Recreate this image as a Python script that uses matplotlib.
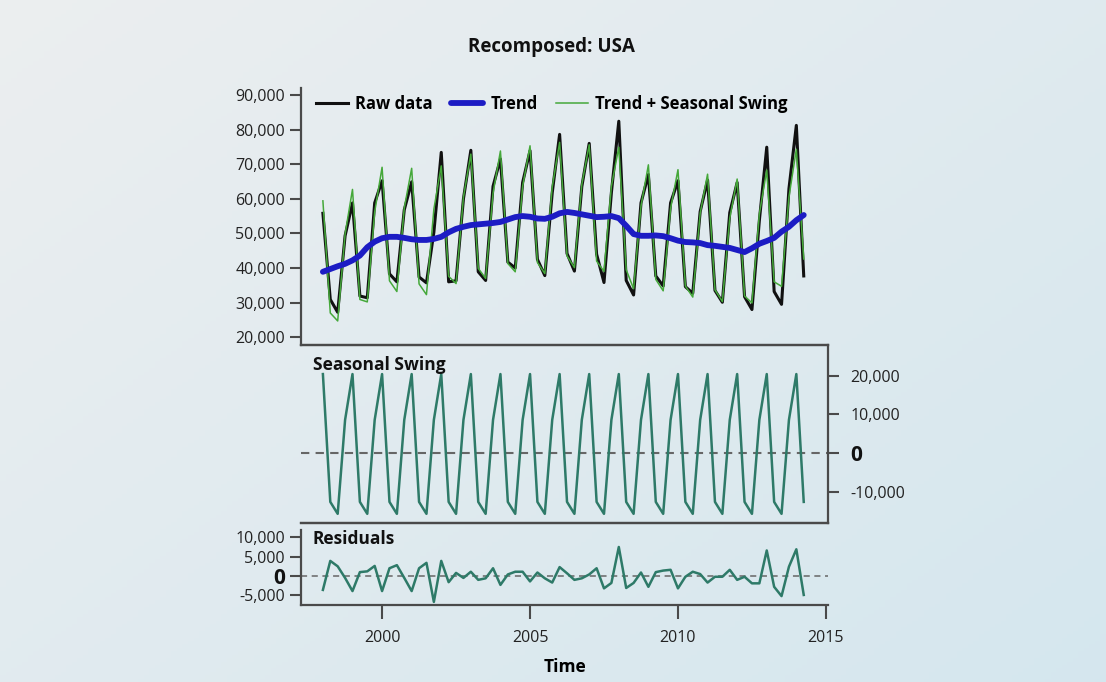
import matplotlib
matplotlib.use("Agg")
import matplotlib.pyplot as plt
import numpy as np
from matplotlib.ticker import FuncFormatter

plt.rcParams["font.family"] = ["Open Sans", "DejaVu Sans"]

# quarterly series, 1998 Q1 .. 2014 Q2
start_year = 1998
trend = [38900, 39700, 40500, 41200, 42200, 43600, 46000, 47600,
         48600, 49000, 49000, 48700, 48300, 48100, 48100, 48400,
         49000, 50300, 51300, 51900, 52400, 52600, 52800, 53000,
         53300, 54000, 54700, 55000, 54800, 54300, 54200, 54800,
         55800, 56200, 55900, 55500, 55100, 54700, 54800, 55000,
         54400, 52200, 49800, 49300, 49300, 49400, 49200, 48600,
         47900, 47500, 47400, 47200, 46600, 46400, 46100, 45800,
         45200, 44600, 45700, 47000, 47800, 48700, 50500, 51900,
         53800, 55300]
seasonal_by_quarter = [20500, -12700, -15800, 8600]
residuals = [-3600, 3900, 2500, -500, -3900, 1000, 1200, 2600,
             -3900, 2000, 2800, -500, -3900, 2000, 3400, -6700,
             3900, -1600, 800, -500, 1100, -1000, -600, 2000,
             -2300, 400, 1100, 1100, -1400, 900, -600, -1700,
             2300, 700, -1000, -600, 400, 2000, -3200, -1800,
             7500, -3100, -1800, 900, -2800, 1000, 1400, 1600,
             -3200, -200, 1100, 500, -1700, -200, -200, 1600,
             -1000, -200, -1900, -1900, 6600, -2800, -5200, 2400,
             6900, -4900]

legend_labels = ["Raw data", "Trend", "Trend + Seasonal Swing"]
x_ticks = [2000, 2005, 2010, 2015]
top_ticks = [20000, 30000, 40000, 50000, 60000, 70000, 80000, 90000]
season_ticks = [-10000, 0, 10000, 20000]
resid_ticks = [-5000, 0, 5000, 10000]

n = len(trend)
t = start_year + np.arange(n) / 4.0
trend = np.array(trend, dtype=float)
seasonal = np.tile(seasonal_by_quarter, n // 4 + 1)[:n].astype(float)
residuals = np.array(residuals, dtype=float)
trend_seasonal = trend + seasonal
raw = trend_seasonal + residuals

W, H = 1106, 682
fig = plt.figure(figsize=(W / 100, H / 100), dpi=100)

# soft background gradient
bg = fig.add_axes([0, 0, 1, 1], zorder=-10)
gx, gy = np.meshgrid(np.linspace(0, 1, 200), np.linspace(0, 1, 200))
g = np.clip(0.55 * gx + 0.45 * gy, 0, 1)
c0 = np.array([0.925, 0.935, 0.940])
c1 = np.array([0.835, 0.905, 0.935])
img = c0[None, None, :] * (1 - g[..., None]) + c1[None, None, :] * g[..., None]
bg.imshow(img, aspect="auto", extent=[0, 1, 0, 1], origin="upper")
bg.axis("off")

def px(x0, y0, x1, y1):
    return [x0 / W, 1 - y1 / H, (x1 - x0) / W, (y1 - y0) / H]

ax1 = fig.add_axes(px(301, 88, 828, 345))
ax2 = fig.add_axes(px(301, 345, 828, 523), sharex=ax1)
ax3 = fig.add_axes(px(301, 523, 828, 605), sharex=ax1)

spine_col = "#4a4a4a"
teal = "#2e7a68"
for ax in (ax1, ax2, ax3):
    ax.set_facecolor("none")
    for sp in ax.spines.values():
        sp.set_color(spine_col)
        sp.set_linewidth(1.6)
    ax.tick_params(colors=spine_col, width=1.5, length=8, labelsize=11.5,
                   labelcolor="#222222")

comma = FuncFormatter(lambda v, p: f"{int(v):,}")

# --- top panel
ax1.plot(t, raw, color="#111111", lw=2.2, zorder=2, label=legend_labels[0])
ax1.plot(t, trend, color="#1c1cc4", lw=4.2, zorder=4, solid_capstyle="round",
         label=legend_labels[1])
ax1.plot(t, trend_seasonal, color="#45a83a", lw=1.1, zorder=3, label=legend_labels[2])
ax1.set_ylim(17750, 92000)
ax1.set_xlim(1997.26, 2015.07)
ax1.set_yticks(top_ticks)
ax1.yaxis.set_major_formatter(comma)
ax1.spines["top"].set_visible(False)
ax1.spines["right"].set_visible(False)
ax1.tick_params(axis="x", bottom=False, labelbottom=False)
ax1.legend(ncol=3, frameon=False, loc="upper left", bbox_to_anchor=(0.0, 1.03),
           handlelength=1.9, handletextpad=0.45, columnspacing=1.1,
           prop={"weight": "bold", "size": 12})

# --- seasonal panel
ax2.plot(t, seasonal, color=teal, lw=1.8)
ax2.axhline(0, color="#666666", lw=1.5, ls=(0, (4, 3)), zorder=0)
ax2.set_ylim(-18180, 28050)
ax2.set_yticks(season_ticks)
ax2.yaxis.set_major_formatter(comma)
ax2.yaxis.tick_right()
ax2.spines["left"].set_visible(False)
ax2.tick_params(axis="x", bottom=False, labelbottom=False)
ax2.tick_params(axis="y", pad=8)
ax2.text(0.022, 0.94, "Seasonal Swing", transform=ax2.transAxes, ha="left",
         va="top", fontsize=12.5, fontweight="bold", color="#111111")

# --- residual panel
ax3.plot(t, residuals, color=teal, lw=1.8)
ax3.axhline(0, color="#666666", lw=1.1, ls=(0, (4, 3)), zorder=0)
ax3.set_ylim(-7500, 13700)
ax3.set_yticks(resid_ticks)
ax3.yaxis.set_major_formatter(comma)
ax3.spines["right"].set_visible(False)
ax3.spines["left"].set_bounds(-7500, 11900)
ax3.set_xticks(x_ticks)
ax3.tick_params(axis="x", length=10, pad=8)
ax3.tick_params(axis="y", length=8)
ax3.text(0.022, 0.92, "Residuals", transform=ax3.transAxes, ha="left",
         va="top", fontsize=12.5, fontweight="bold", color="#111111")

# bold zero labels
for ax in (ax2, ax3):
    for lab in ax.get_yticklabels():
        if lab.get_text() == "0":
            lab.set_fontweight("bold")
            lab.set_fontsize(15)
            lab.set_color("#111111")

ax3.set_xlabel("Time", fontsize=12.5, fontweight="bold", labelpad=9)
fig.text(551 / W, 1 - 47 / H, "Recomposed: USA", ha="center", va="center",
         fontsize=13.5, fontweight="bold", color="#111111")

fig.savefig("out.png", dpi=100)
